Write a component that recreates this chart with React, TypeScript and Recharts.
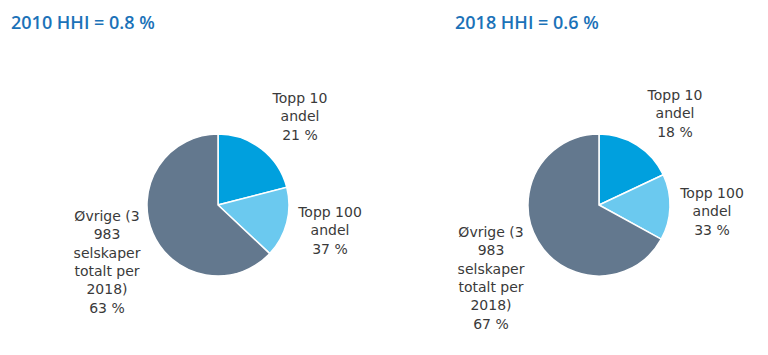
import { PieChart, Pie, Cell } from 'recharts';

// slice names and colours
const SEGMENTS = ['Topp 10 andel', 'Topp 100 andel', 'Øvrige'];
const SEGMENT_COLORS = ['#00a0de', '#6bc9ef', '#63788e'];

// label text lines (the percentage is appended below)
const LABEL_LINES = [
  ['Topp 10', 'andel'],
  ['Topp 100', 'andel'],
  ['Øvrige (3', '983', 'selskaper', 'totalt per', '2018)'],
];

// slice sizes (Topp 100 slice = the part beyond topp 10)
const SLICES_2010 = [21, 16, 63];
const SLICES_2018 = [18, 15, 67];

// percentages as printed in the labels (cumulative for topp 100)
const LABEL_PCT_2010 = [21, 37, 63];
const LABEL_PCT_2018 = [18, 33, 67];

const TITLES = ['2010 HHI = 0.8 %', '2018 HHI = 0.6 %'];

const FONT = '"DejaVu Sans", sans-serif';
const LINE_H = 18.3;

// label placement relative to pie centre (first line)
const OFFSETS_2010 = [
  [82, -107],
  [112, 7],
  [-111, 11],
];
const OFFSETS_2018 = [
  [76, -110],
  [113, -12],
  [-108, 27],
];

interface PanelProps {
  title: string;
  slices: number[];
  pcts: number[];
  offsets: number[][];
  left: number;
  cx: number;
  titleX: number;
}

function Panel({ title, slices, pcts, offsets, left, cx, titleX }: PanelProps) {
  const cy = 205;
  const data = SEGMENTS.map((name, i) => ({ name, value: slices[i] }));

  const renderLabel = (props: any) => {
    const i = props.index;
    const x = cx + offsets[i][0];
    const y0 = cy + offsets[i][1];
    const lines = [...LABEL_LINES[i], `${pcts[i]} %`];
    return (
      <text
        key={`lbl-${i}`}
        x={x}
        y={y0}
        textAnchor="middle"
        fill="#3a3a3a"
        fontFamily={FONT}
        fontSize={14}
      >
        {lines.map((l, j) => (
          <tspan key={j} x={x} y={y0 + j * LINE_H} dominantBaseline="central">
            {l}
          </tspan>
        ))}
      </text>
    );
  };

  return (
    <div style={{ position: 'absolute', left, top: 0, width: 384, height: 355 }}>
      <div
        style={{
          position: 'absolute',
          left: titleX,
          top: 8,
          fontFamily: '"Open Sans", sans-serif',
          fontSize: 18,
          fontWeight: 600,
          color: '#1b72b8',
          whiteSpace: 'nowrap',
          lineHeight: '28px',
        }}
      >
        {title}
      </div>
      <PieChart width={384} height={355} margin={{ top: 0, right: 0, bottom: 0, left: 0 }}>
        <Pie
          data={data}
          dataKey="value"
          cx={cx}
          cy={cy}
          outerRadius={71}
          startAngle={90}
          endAngle={-270}
          stroke="#ffffff"
          strokeWidth={1.5}
          labelLine={false}
          label={renderLabel}
          isAnimationActive={false}
        >
          {data.map((d, i) => (
            <Cell key={`cell-${i}`} fill={SEGMENT_COLORS[i]} />
          ))}
        </Pie>
      </PieChart>
    </div>
  );
}

export default function App() {
  return (
    <div style={{ position: 'absolute', left: 0, top: 0, width: 768, height: 355, background: '#fff' }}>
      <Panel
        title={TITLES[0]}
        slices={SLICES_2010}
        pcts={LABEL_PCT_2010}
        offsets={OFFSETS_2010}
        left={0}
        cx={218}
        titleX={11}
      />
      <Panel
        title={TITLES[1]}
        slices={SLICES_2018}
        pcts={LABEL_PCT_2018}
        offsets={OFFSETS_2018}
        left={384}
        cx={215}
        titleX={71}
      />
    </div>
  );
}
